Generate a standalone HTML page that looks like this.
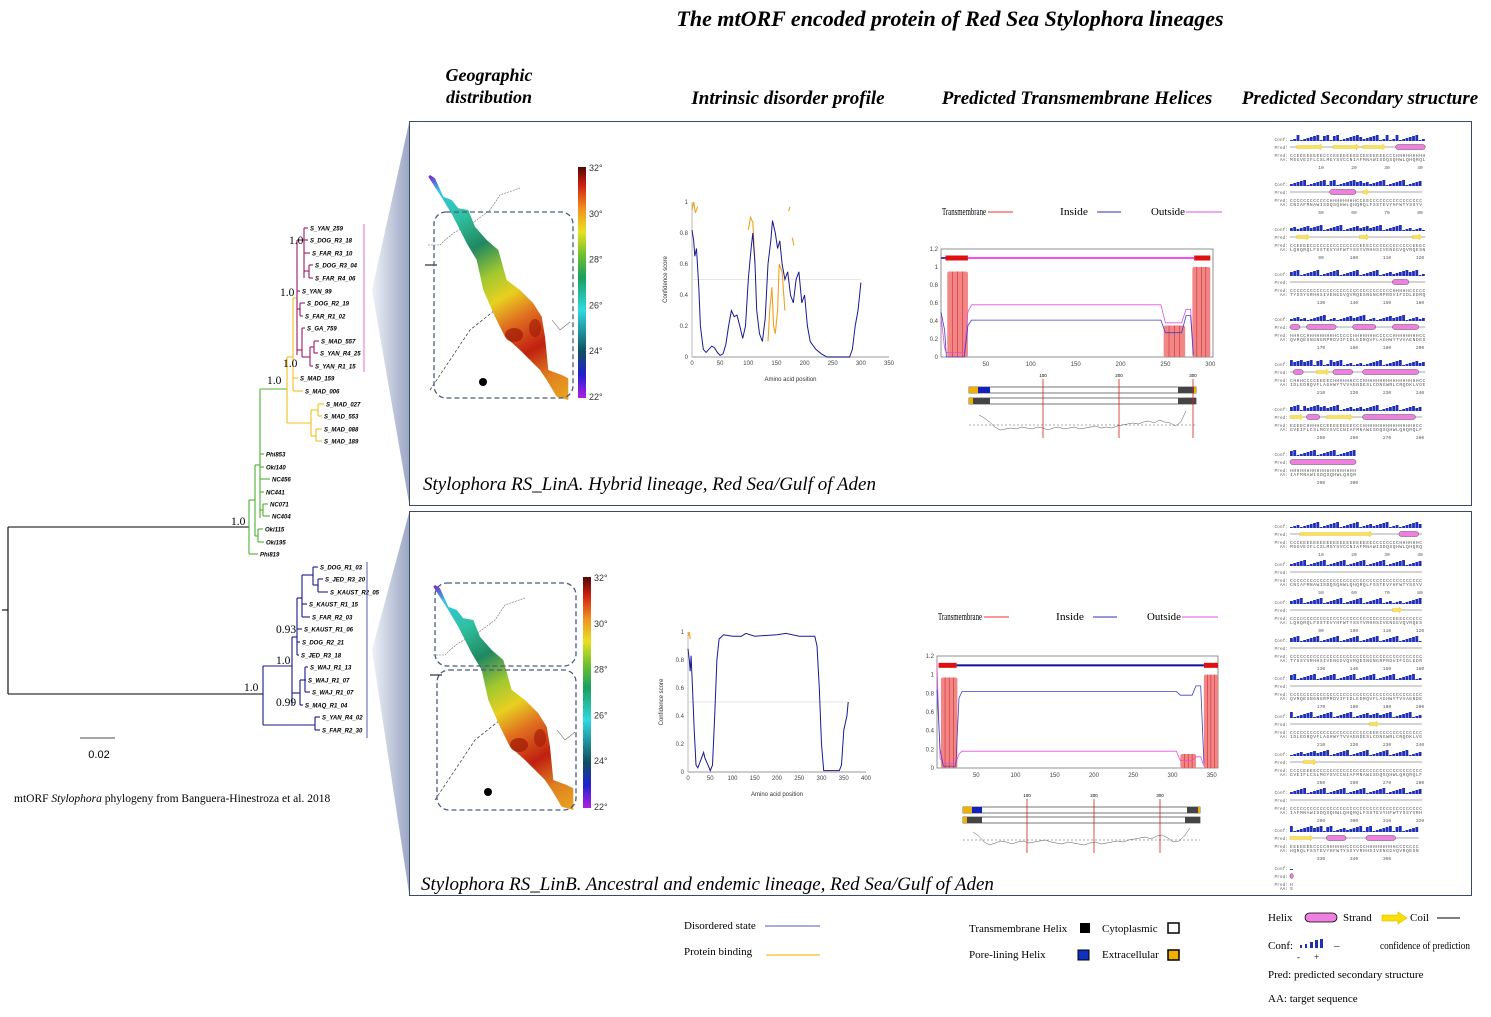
<!DOCTYPE html>
<html><head><meta charset="utf-8"><style>
html,body{margin:0;padding:0;background:#fff;}
svg{display:block;}
.ser{font-family:"Liberation Serif",serif;}
.san{font-family:"Liberation Sans",sans-serif;}
.mono{font-family:"Liberation Mono",monospace;}
</style></head><body>
<svg id="fig" width="1491" height="1017" viewBox="0 0 1491 1017" xmlns="http://www.w3.org/2000/svg">
<defs>
<linearGradient id="wedge" x1="0" y1="0" x2="1" y2="0"><stop offset="0" stop-color="#eef1f7"/><stop offset="1" stop-color="#9aa6c4"/></linearGradient>
<linearGradient id="cbar" x1="0" y1="1" x2="0" y2="0">
<stop offset="0" stop-color="#b020e0"/><stop offset="0.1" stop-color="#2020d0"/><stop offset="0.2" stop-color="#105060"/><stop offset="0.38" stop-color="#30d8e0"/><stop offset="0.52" stop-color="#18a060"/><stop offset="0.62" stop-color="#70c030"/><stop offset="0.72" stop-color="#e8e020"/><stop offset="0.82" stop-color="#f09020"/><stop offset="0.92" stop-color="#d02010"/><stop offset="1" stop-color="#500808"/></linearGradient>
<linearGradient id="sea" gradientUnits="userSpaceOnUse" x1="430" y1="175" x2="560" y2="400">
<stop offset="0" stop-color="#8020d0"/><stop offset="0.07" stop-color="#30c8e0"/><stop offset="0.2" stop-color="#30c0a0"/><stop offset="0.33" stop-color="#208860"/><stop offset="0.45" stop-color="#a0c830"/><stop offset="0.55" stop-color="#e8d020"/><stop offset="0.65" stop-color="#e07020"/><stop offset="0.78" stop-color="#c02010"/><stop offset="0.9" stop-color="#e08020"/><stop offset="1" stop-color="#e8a020"/></linearGradient>
</defs>

<text x="950" y="26" text-anchor="middle" class="ser" font-size="22" font-style="italic" font-weight="bold">The mtORF encoded protein of Red Sea Stylophora lineages</text>
<text x="489" y="81" text-anchor="middle" class="ser" font-size="18" font-style="italic" font-weight="bold">Geographic</text>
<text x="489" y="103" text-anchor="middle" class="ser" font-size="18" font-style="italic" font-weight="bold">distribution</text>
<text x="788" y="104" text-anchor="middle" class="ser" font-size="19" font-style="italic" font-weight="bold">Intrinsic disorder profile</text>
<text x="1077" y="104" text-anchor="middle" class="ser" font-size="19" font-style="italic" font-weight="bold">Predicted Transmembrane Helices</text>
<text x="1360" y="104" text-anchor="middle" class="ser" font-size="19" font-style="italic" font-weight="bold">Predicted Secondary structure</text>

<polygon points="409,123 372,290 409,503" fill="url(#wedge)"/>
<polygon points="409,513 372,650 409,893" fill="url(#wedge)"/>
<rect x="409.5" y="121.5" width="1062" height="384" fill="none" stroke="#3a4a6a" stroke-width="1"/>
<rect x="409.5" y="511.5" width="1062" height="384" fill="none" stroke="#3a4a6a" stroke-width="1"/>
<text x="423" y="490" class="ser" font-size="19" font-style="italic">Stylophora RS_LinA. Hybrid lineage, Red Sea/Gulf of Aden</text>
<text x="421" y="890" class="ser" font-size="19" font-style="italic">Stylophora RS_LinB. Ancestral and endemic lineage, Red Sea/Gulf of Aden</text>

<g id="tree"></g>
<line x1="80" y1="738" x2="115" y2="738" stroke="#888" stroke-width="1.5"/>
<text x="99" y="758" text-anchor="middle" class="san" font-size="11">0.02</text>
<text x="14" y="802" class="ser" font-size="11.5">mtORF <tspan font-style="italic">Stylophora</tspan> phylogeny from Banguera-Hinestroza et al. 2018</text>

<g id="mapA"></g>
<g id="mapB" transform="translate(5,410)"></g>

<g id="disA"></g>
<g id="disB"></g>
<g id="tmA"></g>
<g id="tmB"></g>
<g id="ssA"></g>
<g id="ssB"></g>

<g class="ser" font-size="11">
<text x="684" y="929">Disordered state</text>
<line x1="765" y1="926" x2="820" y2="926" stroke="#7878c8" stroke-width="1.3"/>
<text x="684" y="955">Protein binding</text>
<line x1="766" y1="955" x2="820" y2="955" stroke="#f0c020" stroke-width="1.3"/>
</g>
<g class="ser" font-size="11">
<text x="969" y="932">Transmembrane Helix</text>
<rect x="1080" y="923" width="10" height="10" fill="#000"/>
<text x="1102" y="932">Cytoplasmic</text>
<rect x="1168" y="923" width="11" height="10" fill="#fff" stroke="#000" stroke-width="1.5"/>
<text x="969" y="958">Pore-lining Helix</text>
<rect x="1078" y="950" width="11" height="10" fill="#1030c0" stroke="#000"/>
<text x="1102" y="958">Extracellular</text>
<rect x="1168" y="950" width="11" height="10" fill="#f0b000" stroke="#000" stroke-width="1.5"/>
</g>
<g class="ser" font-size="11">
<text x="1268" y="921">Helix</text>
<rect x="1305" y="913" width="32" height="9" rx="4.5" fill="#f080e0" stroke="#000" stroke-width="0.8"/>
<text x="1343" y="921">Strand</text>
<polygon points="1382,915 1398,915 1398,912 1407,918 1398,924 1398,921 1382,921" fill="#f8e000" stroke="#e0b000" stroke-width="0.6"/>
<text x="1410" y="921">Coil</text>
<line x1="1437" y1="918" x2="1460" y2="918" stroke="#000"/>
<text x="1268" y="949">Conf:</text>
<g fill="#2030b0"><rect x="1300" y="945" width="2" height="3"/><rect x="1305" y="944" width="2" height="4"/><rect x="1310" y="942" width="3" height="6"/><rect x="1315" y="940" width="3" height="8"/><rect x="1320" y="939" width="3" height="9"/></g>
<text x="1297" y="960" font-size="9">-</text>
<text x="1314" y="960" font-size="9">+</text>
<text x="1334" y="949">–</text>
<text x="1380" y="949" textLength="90" lengthAdjust="spacingAndGlyphs">confidence of prediction</text>
<text x="1268" y="978">Pred: predicted secondary structure</text>
<text x="1268" y="1002">AA: target sequence</text>
</g>
</svg>
<script>
var NS="http://www.w3.org/2000/svg";
function mk(parent,tag,attrs,txt){var e=document.createElementNS(NS,tag);for(var k in attrs)e.setAttribute(k,attrs[k]);if(txt!=null)e.textContent=txt;parent.appendChild(e);return e;}
function nm(e,n){


return e;}

/* ---------- TREE ---------- */
var K="#000",G="#4cb030",Y="#f0c020",M="#9a1a6a",B="#18188a";
var treeSegs=[
[2,610,8,610,K],[8,527,8,694,K],[8,527,249,527,K],[8,694,263,694,K],
[249,500,249,554,G],[249,500,255,500,G],[255,465,255,536,G],[255,465,260,465,G],[260,389,260,518,G],
[260,454,264,454,G],[260,467,264,467,G],[260,479,270,479,G],[260,492,264,492,G],[260,510,263,510,G],[263,504,263,516,G],[263,504,268,504,G],[263,516,270,516,G],
[255,536,258,536,G],[258,529,258,542,G],[258,529,263,529,G],[258,542,264,542,G],[249,554,258,554,G],
[260,389,287,389,G],[287,357,287,423,Y],[287,357,293,357,Y],[293,298,293,391,Y],[293,378,298,378,Y],[293,391,303,391,Y],[293,298,297,298,Y],
[287,423,311,423,Y],[311,410,311,436,Y],[311,410,318,410,Y],[318,404,318,416,Y],[318,404,324,404,Y],[318,416,322,416,Y],[311,436,316,436,Y],[316,429,316,441,Y],[316,429,322,429,Y],[316,441,322,441,Y],
[297,240,297,355,M],[297,240,304,240,M],[304,228,304,278,M],[304,228,308,228,M],[304,240,308,240,M],[304,253,310,253,M],[304,271,309,271,M],[309,265,309,278,M],[309,265,313,265,M],[309,278,313,278,M],
[297,291,300,291,M],[297,309,300,309,M],[300,303,300,316,M],[300,303,305,303,M],[300,316,303,316,M],
[297,350,302,350,M],[302,328,302,357,M],[302,328,305,328,M],[302,357,310,357,M],[310,347,310,366,M],[310,347,314,347,M],[314,341,314,353,M],[314,341,319,341,M],[314,353,318,353,M],[310,366,313,366,M],
[263,666,263,725,B],[263,666,292,666,B],[292,637,292,705,B],[292,637,297,637,B],[297,598,297,655,B],[297,598,302,598,B],[302,575,302,617,B],[302,575,313,575,B],[313,567,313,585,B],[313,567,318,567,B],[313,585,318,585,B],[318,579,318,592,B],[318,579,323,579,B],[318,592,328,592,B],
[302,604,307,604,B],[302,617,310,617,B],[297,629,302,629,B],[297,642,300,642,B],[297,655,299,655,B],
[292,693,300,693,B],[300,680,300,705,B],[300,680,305,680,B],[305,667,305,692,B],[305,667,308,667,B],[305,680,306,680,B],[305,692,310,692,B],[300,705,303,705,B],
[263,725,315,725,B],[315,717,315,730,B],[315,717,320,717,B],[315,730,320,730,B]];
var tipNames=["S_YAN_259","S_DOG_R3_18","S_FAR_R3_10","S_DOG_R3_04","S_FAR_R4_06","S_YAN_99","S_DOG_R2_19","S_FAR_R1_02","S_GA_759","S_MAD_557","S_YAN_R4_25","S_YAN_R1_15","S_MAD_159","S_MAD_006","S_MAD_027","S_MAD_553","S_MAD_088","S_MAD_189","Phi853","Oki140","NC456","NC441","NC071","NC404","Oki115","Oki195","Phi819","S_DOG_R1_03","S_JED_R3_20","S_KAUST_R2_05","S_KAUST_R1_15","S_FAR_R2_03","S_KAUST_R1_06","S_DOG_R2_21","S_JED_R3_18","S_WAJ_R1_13","S_WAJ_R1_07","S_WAJ_R1_07","S_MAQ_R1_04","S_YAN_R4_02","S_FAR_R2_30"];
var tipX=[308,308,310,313,313,300,305,303,305,319,318,313,298,303,324,322,322,322,264,264,270,264,268,270,263,264,258,318,323,328,307,310,302,300,299,308,306,310,303,320,320];
var tipY=[228,240,253,265,278,291,303,316,328,341,353,366,378,391,404,416,429,441,454,467,479,492,504,516,529,542,554,567,579,592,604,617,629,642,655,667,680,692,705,717,730];
var supLabels=["1.0","1.0","1.0","1.0","1.0","0.93","1.0","1.0","0.99"];
var supX=[289,280,283,267,231,276,276,244,276];
var supY=[244,296,367,384,525,633,664,691,706];
(function(){var g=document.getElementById('tree');
treeSegs.forEach(function(s,i){var l=mk(g,'line',{x1:s[0],y1:s[1],x2:s[2],y2:s[3],stroke:s[4],'stroke-width':1.1});nm(l,'tree-branch');});
tipNames.forEach(function(n,i){var t=mk(g,'text',{x:tipX[i]+2,y:tipY[i]+2.5,'font-size':6,'font-style':'italic','font-weight':'bold','font-family':'Liberation Sans, sans-serif'},n);nm(t,'tip-label');});
supLabels.forEach(function(s,i){var t=mk(g,'text',{x:supX[i],y:supY[i],'font-size':11.5,'font-family':'Liberation Serif, serif'},s);nm(t,'support-value');});
var b1=mk(g,'line',{x1:364,y1:224,x2:364,y2:372,stroke:'#e070d0','stroke-width':1});nm(b1,'clade-bar-lina');
var b2=mk(g,'line',{x1:367,y1:562,x2:367,y2:738,stroke:'#5060b0','stroke-width':1});nm(b2,'clade-bar-linb');
})();

/* ---------- MAPS ---------- */
var cbLabels=["32°","30°","28°","26°","24°","22°"];
function drawMap(g,dashRects){
var pts=[[60,75],[75,85],[100,140],[125,150],[145,175],[175,180],[195,230],[230,270],[265,300],[290,390],[330,420],[370,460],[395,500],[405,560],[415,660],[455,675],[475,685],[475,750],[440,740],[410,690],[390,660],[330,600],[285,560],[255,500],[220,420],[200,330],[170,280],[130,200],[100,150],[55,80]];
var p=pts.map(function(q){return (q[0]/3+410).toFixed(1)+","+(q[1]/3+150).toFixed(1);}).join(" ");
var land=mk(g,'polyline',{points:"428,245 440,245 445,240 455,232 470,225 490,210 500,195 520,188",fill:'none',stroke:'#666','stroke-width':0.6,'stroke-dasharray':'2,1'});nm(land,'coastline');
var land2=mk(g,'polyline',{points:"430,390 450,360 470,330 485,318 495,310",fill:'none',stroke:'#333','stroke-width':0.7,'stroke-dasharray':'3,2'});nm(land2,'coastline');
var land3=mk(g,'polyline',{points:"552,320 560,330 570,322",fill:'none',stroke:'#666','stroke-width':0.6});nm(land3,'coastline');
var sea=mk(g,'polygon',{points:p,fill:'url(#sea)'});nm(sea,'red-sea-temperature');
var hot=mk(g,'ellipse',{cx:514,cy:335,rx:9,ry:7,fill:'#a01808',opacity:0.7});nm(hot,'hotspot');
var hot2=mk(g,'ellipse',{cx:535,cy:328,rx:6,ry:9,fill:'#a01808',opacity:0.6});nm(hot2,'hotspot');
var isl=mk(g,'circle',{cx:483,cy:382,r:4,fill:'#000'});nm(isl,'island');
var tk=mk(g,'line',{x1:425,y1:265,x2:437,y2:265,stroke:'#000'});nm(tk,'map-tick');
var cb=mk(g,'rect',{x:578,y:167,width:8,height:231,fill:'url(#cbar)'});nm(cb,'colorbar');
cbLabels.forEach(function(l,i){var t=mk(g,'text',{x:589,y:171+i*45.8,'font-size':9,'font-family':'Liberation Sans, sans-serif',fill:'#333'},l);nm(t,'colorbar-label');});
dashRects.forEach(function(r){var d=mk(g,'rect',{x:r[0],y:r[1],width:r[2],height:r[3],rx:12,fill:'none',stroke:'#4a5a80','stroke-width':1.3,'stroke-dasharray':'5,3'});nm(d,'sampling-region');});
}
drawMap(document.getElementById('mapA'),[[434,212,139,186]]);
drawMap(document.getElementById('mapB'),[[430,173,141,83],[432,260,139,140]]);

/* ---------- DISORDER CHARTS ---------- */
var disAPos=[0,3,5,8,12,15,20,25,30,35,40,45,50,55,60,65,70,75,80,85,90,95,100,105,108,112,115,120,125,130,135,140,143,148,152,156,160,165,170,175,180,185,190,195,200,205,210,220,230,240,280,285,290,295,300];
var disAVal=[0.82,0.75,0.65,0.7,0.45,0.2,0.05,0.03,0.05,0.07,0.06,0.03,0.01,0.02,0.08,0.2,0.3,0.26,0.27,0.2,0.12,0.2,0.5,0.7,0.8,0.6,0.3,0.15,0.1,0.25,0.6,0.75,0.88,0.8,0.7,0.75,0.6,0.5,0.55,0.4,0.35,0.5,0.55,0.35,0.4,0.2,0.1,0.05,0.02,0,0,0.05,0.2,0.3,0.48];
var bindA=[[[0,0.95],[3,1.0],[6,0.93],[10,0.97]],[[100,0.82],[104,0.9],[108,0.87],[112,0.6]],[[135,0.1],[138,0.3],[142,0.45],[145,0.2],[148,0.15],[152,0.3],[155,0.6],[160,0.55],[165,0.3]],[[172,0.94],[174,0.97]],[[178,0.77],[181,0.72]]];
var disAXTicks=[0,50,100,150,200,250,300,350];
var disBPos=[0,3,5,7,10,14,18,22,28,35,38,45,50,55,60,65,70,80,100,120,130,150,200,220,250,285,290,295,300,305,340,345,350,357,360];
var disBVal=[0.88,0.8,0.72,0.83,0.6,0.3,0.05,0.03,0.08,0.14,0.1,0.05,0.01,0.05,0.4,0.8,0.95,0.98,0.97,0.97,0.99,0.97,0.98,0.99,0.97,0.97,0.9,0.6,0.2,0.01,0.01,0.05,0.3,0.4,0.5];
var bindB=[[[0,0.97],[3,1.0],[5,0.95]]];
var disBXTicks=[0,50,100,150,200,250,300,350,400];
var disYTicks=[0,0.2,0.4,0.6,0.8,1];
function drawDis(g,o,pos,val,bind,xt,tag){
var sx=function(v){return o.x0+(v-o.xmin)/(o.xmax-o.xmin)*(o.x1-o.x0);};
var sy=function(v){return o.y0-(v)*(o.y0-o.y1);};
var ax=mk(g,'line',{x1:o.x0,y1:o.y0,x2:o.x1,y2:o.y0,stroke:'#bbb','stroke-width':1.5});nm(ax,'x-axis');
var ay=mk(g,'line',{x1:o.x0,y1:o.y0,x2:o.x0,y2:o.y1,stroke:'#bbb','stroke-width':1});nm(ay,'y-axis');
xt.forEach(function(v){var t=mk(g,'text',{x:sx(v),y:o.y0+8,'font-size':6,'text-anchor':'middle','font-family':'Liberation Sans, sans-serif',fill:'#444'},String(v));nm(t,'x-tick-label');});
disYTicks.forEach(function(v){var t=mk(g,'text',{x:o.x0-4,y:sy(v)+2,'font-size':6,'text-anchor':'end','font-family':'Liberation Sans, sans-serif',fill:'#444'},String(v));nm(t,'y-tick-label');});
var th=mk(g,'line',{x1:sx(0),y1:sy(0.5),x2:sx(pos[pos.length-1]),y2:sy(0.5),stroke:'#ccc','stroke-width':0.6});nm(th,'threshold-line');
var xl=mk(g,'text',{x:(o.x0+o.x1)/2,y:o.y0+24,'font-size':6,'text-anchor':'middle','font-family':'Liberation Sans, sans-serif',fill:'#333'},'Amino acid position');nm(xl,'x-axis-title');
var yc=(o.y0+o.y1)/2;var yl=mk(g,'text',{x:o.x0-25,y:yc,'font-size':6,'text-anchor':'middle','font-family':'Liberation Sans, sans-serif',fill:'#333',transform:'rotate(-90 '+(o.x0-25)+' '+yc+')'},'Confidence score');nm(yl,'y-axis-title');
bind.forEach(function(seg){var l=mk(g,'polyline',{points:seg.map(function(q){return sx(q[0]).toFixed(1)+','+sy(q[1]).toFixed(1);}).join(' '),fill:'none',stroke:'#f0a020','stroke-width':1.1});nm(l,'binding-line');});
var d=mk(g,'polyline',{points:pos.map(function(p,i){return sx(p).toFixed(1)+','+sy(val[i]).toFixed(1);}).join(' '),fill:'none',stroke:'#1a1a90','stroke-width':1});nm(d,'disorder-line');
}
drawDis(document.getElementById('disA'),{x0:692,x1:889,xmin:0,xmax:350,y0:357,y1:202},disAPos,disAVal,bindA,disAXTicks,'a');
drawDis(document.getElementById('disB'),{x0:688,x1:866,xmin:0,xmax:400,y0:772,y1:632},disBPos,disBVal,bindB,disBXTicks,'b');

/* ---------- TM CHARTS ---------- */
var tmYTicks=[0,0.2,0.4,0.6,0.8,1,1.2];
var tmAXTicks=[50,100,150,200,250,300];
var tmARegions=[[7,30,0.95],[248,272,0.35],[280,300,1.0]];
var tmATopBars=[[5,30,'#e01010'],[282,300,'#e01010'],[30,282,'#f050f0'],[0,5,'#4040c0']];
var tmAOutPos=[0,4,6,26,30,34,245,250,268,273,278,281];
var tmAOutVal=[0.45,0.1,0.05,0.05,0.5,0.58,0.58,0.38,0.38,0.53,0.53,0.05];
var tmAInPos=[0,4,6,26,30,34,245,250,268,273,278,281];
var tmAInVal=[0.5,0.3,0.0,0.0,0.35,0.41,0.41,0.27,0.27,0.46,0.46,0.02];
var tmBXTicks=[50,100,150,200,250,300,350];
var tmBRegions=[[5,26,0.97],[310,330,0.15],[340,358,1.0]];
var tmBTopBars=[[2,25,'#e01010'],[340,358,'#e01010'],[25,340,'#101090']];
var tmBOutPos=[0,4,8,24,28,32,305,310,325,330,336,340];
var tmBOutVal=[1.1,0.1,0.05,0.05,0.15,0.18,0.18,0.08,0.08,0.12,0.12,0.02];
var tmBInPos=[0,4,8,24,28,32,305,310,325,330,336,340];
var tmBInVal=[0.84,0.2,0.02,0.02,0.75,0.82,0.82,0.78,0.78,0.88,0.88,0.05];
function drawTM(g,o,xt,reg,bars,op,ov,ip,iv,topo){
var sx=function(v){return o.x0+v/o.xmax*(o.x1-o.x0);};
var sy=function(v){return o.y0-v/1.2*(o.y0-o.y1);};
var lg=[['Transmembrane',0,'#e83030',44],['Inside',118,'#3030b0',28],['Outside',209,'#e050e0',34]];
var ls=[47,38,36],le=[72,62,72];
lg.forEach(function(l,i){var t=mk(g,'text',{x:o.x0+1+l[1],y:o.ly,'font-size':10.5,'font-family':'Liberation Serif, serif',textLength:l[3],lengthAdjust:'spacingAndGlyphs'},l[0]);nm(t,'tm-legend-label');
var ln=mk(g,'line',{x1:o.x0+l[1]+ls[i],y1:o.ly-3,x2:o.x0+l[1]+le[i],y2:o.ly-3,stroke:l[2],'stroke-width':1});nm(ln,'tm-legend-line');});
var box=mk(g,'rect',{x:o.x0,y:o.y1,width:o.x1-o.x0,height:o.y0-o.y1,fill:'none',stroke:'#777','stroke-width':0.8});nm(box,'tm-plot-frame');
tmYTicks.forEach(function(v){var t=mk(g,'text',{x:o.x0-3,y:sy(v)+2,'font-size':6,'text-anchor':'end','font-family':'Liberation Sans, sans-serif',fill:'#444'},String(v));nm(t,'y-tick-label');});
xt.forEach(function(v){var t=mk(g,'text',{x:sx(v),y:o.y0+9,'font-size':6,'text-anchor':'middle','font-family':'Liberation Sans, sans-serif',fill:'#444'},String(v));nm(t,'x-tick-label');});
reg.forEach(function(r){var a=mk(g,'rect',{x:sx(r[0]),y:sy(r[2]),width:sx(r[1])-sx(r[0]),height:sy(0)-sy(r[2]),fill:'#f07070',opacity:0.85,rx:2});nm(a,'tm-probability-area');
for(var k=1;k<4;k++){var vl=mk(g,'line',{x1:sx(r[0]+(r[1]-r[0])*k/4),y1:sy(r[2]),x2:sx(r[0]+(r[1]-r[0])*k/4),y2:sy(0),stroke:'#c02020','stroke-width':0.5});nm(vl,'tm-area-stripe');}});
bars.forEach(function(b){var r=mk(g,'rect',{x:sx(b[0]),y:sy(1.1)-(b[2]=='#e01010'?2.5:1),width:sx(b[1])-sx(b[0]),height:b[2]=='#e01010'?5:2,fill:b[2]});nm(r,'topology-bar');});
var lo=mk(g,'polyline',{points:op.map(function(p,i){return sx(p).toFixed(1)+','+sy(ov[i]).toFixed(1);}).join(' '),fill:'none',stroke:'#e050e0','stroke-width':0.8});nm(lo,'outside-line');
var li=mk(g,'polyline',{points:ip.map(function(p,i){return sx(p).toFixed(1)+','+sy(iv[i]).toFixed(1);}).join(' '),fill:'none',stroke:'#4040c0','stroke-width':0.8});nm(li,'inside-line');
var T=topo;
[[T.y1,T.segs1],[T.y2,T.segs2]].forEach(function(row){var r=mk(g,'rect',{x:T.x0,y:row[0],width:T.x1-T.x0,height:6,fill:'#fff',stroke:'#555','stroke-width':0.8});nm(r,'topology-track');
row[1].forEach(function(s){var q=mk(g,'rect',{x:s[0],y:row[0],width:s[1]-s[0],height:6,fill:s[2]});nm(q,'topology-segment');});});
var dl=mk(g,'line',{x1:T.x0,y1:T.hy,x2:T.x1,y2:T.hy,stroke:'#555','stroke-width':0.5,'stroke-dasharray':'2,2'});nm(dl,'hydro-baseline');
var hp=[];for(var i=0;i<=T.hv.length-1;i++){hp.push((T.x0+10+i*(T.x1-T.x0-20)/(T.hv.length-1)).toFixed(1)+','+(T.hy-T.hv[i]).toFixed(1));}
var hl=mk(g,'polyline',{points:hp.join(' '),fill:'none',stroke:'#555','stroke-width':0.5});nm(hl,'hydrophobicity-line');
T.marks.forEach(function(m,i){var v=mk(g,'line',{x1:m,y1:T.y1-8,x2:m,y2:T.hy+13,stroke:'#d02020','stroke-width':0.8});nm(v,'position-marker');
var t=mk(g,'text',{x:m,y:T.y1-10,'font-size':4.5,'text-anchor':'middle','font-family':'Liberation Sans, sans-serif'},String((i+1)*100));nm(t,'position-label');});
}
var hydA=[10,7,3,-2,-5,-4,-3,-4,-2,-3,-4,-2,-3,-5,-3,-2,-4,-3,-2,-4,-3,-2,-1,-3,-2,-3,-1,0,1,2,1,3,4,2,5,3,2,-1,3,14];
var hydB=[8,4,-2,-5,-3,-1,-2,-4,-2,-1,-3,-2,-1,0,-2,-3,-4,-2,-3,-4,-5,-3,-2,-4,-3,-2,-1,-2,0,1,2,3,1,4,5,2,-2,-1,4,12];
drawTM(document.getElementById('tmA'),{x0:941,x1:1213,xmax:303,y0:357,y1:249,ly:215},tmAXTicks,tmARegions,tmATopBars,tmAOutPos,tmAOutVal,tmAInPos,tmAInVal,
 {x0:969,x1:1196,y1:387,y2:398,hy:425,hv:hydA,marks:[1043,1119,1193],
  segs1:[[969,978,'#f0b000'],[978,990,'#1020c0'],[1178,1194,'#444'],[1194,1196,'#f0b000']],
  segs2:[[969,973,'#f0b000'],[973,990,'#444'],[1178,1196,'#444']]});
drawTM(document.getElementById('tmB'),{x0:937,x1:1218,xmax:358,y0:768,y1:656,ly:620},tmBXTicks,tmBRegions,tmBTopBars,tmBOutPos,tmBOutVal,tmBInPos,tmBInVal,
 {x0:963,x1:1200,y1:807,y2:817,hy:840,hv:hydB,marks:[1027,1094,1160],
  segs1:[[963,972,'#f0b000'],[972,982,'#1020c0'],[1187,1198,'#444'],[1198,1200,'#f0b000']],
  segs2:[[963,967,'#f0b000'],[967,982,'#444'],[1185,1200,'#444']]});

/* ---------- SECONDARY STRUCTURE ---------- */
var ssA=["CCEEEEEEEECCCEEEEEEEECEEEEEEECCCHHHHHHHHH","CCCCCCCCCCCCHHHHHHHHCCEECCCCCCCCCCCCCCCC","CCEEEECCCCCCCCCCCCCCCEEECCCCCCCCCCCCCEEEC","CCCCCCCCCCCCCCCCCCCCCCCCCCCCCCCHHHHHCCCCC","HHHCCHHHHHHHHHCCCCCHHHHHHHCCCCCHHHHHHHHCC","CHHHCCCCEEEECHHHHHHCCCHHHHHHHHHHHHHHHHHCC","EEEECHHHHCCEEEEEEEECCCHHHHHHHHHHHHHHHHCC","HHHHHHHHHHHHHHHHHHHH"];
var ssB=["CCCEEEEEEEEEEEEEEEEEEEEEECCCCCCCCHHHHHHC","CCCCCCCCCCCCCCCCCCCCCCCCCCCCCCCCCCCCCCCC","CCCCCCCCCCCCCCCCCCCCCCCCCCCCCCCEEECCCCCC","CCCCCCCCCCCCCCCCCCCCCCCCCCCCCCCCCCCCCCCC","CCCCCCCCCCCCCCCCCCCCCCCCCCCCCCCCCCCCCCCC","CCCCCCCCCCCCCCCCCCCCCCCCEEECCCCCCCCCCCCC","CCCCEEEECCCCCCCCCCCCCCCCCCCCCCCCCCCCCCCC","CCCCCCCCCCCCCCCCCCCCCCCCCCCCCCCCCCCCCCCC","EEEEEEECCCCHHHHHHCCCCCCHHHHHHHHHCCCCCCC","H"];
var aaSeq="MSGVEIFLCSLMGYSVCCNIAFMNAWISDQSQHWLQHQRQLFSSTEVYHFWTYSSYVRHHSIVENGGVQVRQESNGNGRPRDVIFIDLEDRQVFLAGHWYTVVAENDESLCDNGWRLCRQDKLVGEGNHIWRDEKNPRDL";
function drawSS(g,arr,y0,dy,w,startNum){
arr.forEach(function(s,bi){var y=y0+bi*dy;var x0=1290,cw=w/40;
var lb=[['Conf:',0],['Pred:',8],['Pred:',16],['AA:',20]];
lb.forEach(function(l){var t=mk(g,'text',{x:1288,y:y+l[1]+2,'font-size':4.5,'text-anchor':'end','font-family':'Liberation Mono, monospace',fill:'#666'},l[0]);nm(t,'ss-row-label');});
for(var i=0;i<s.length;i++){var h=1+((i*7+bi*13+(s[i]=='C'?0:3))%6);var r=mk(g,'rect',{x:x0+i*cw,y:y+2-h,width:cw*0.85,height:h,fill:'#2030b8'});nm(r,'confidence-bar');}
var cl=mk(g,'line',{x1:x0,y1:y+8,x2:x0+s.length*cw,y2:y+8,stroke:'#555','stroke-width':0.5});nm(cl,'coil-line');
var re=/H+|E+/g,m;while((m=re.exec(s))){var a=x0+m.index*cw,b=x0+(m.index+m[0].length)*cw;
if(m[0][0]=='H'){var hx=mk(g,'rect',{x:a,y:y+5.5,width:b-a,height:5,rx:2.5,fill:'#f080e0',stroke:'#333','stroke-width':0.4});nm(hx,'helix-shape');}
else{var e=mk(g,'polygon',{points:a+','+(y+6.5)+' '+(b-3)+','+(y+6.5)+' '+(b-3)+','+(y+5)+' '+b+','+(y+8)+' '+(b-3)+','+(y+11)+' '+(b-3)+','+(y+9.5)+' '+a+','+(y+9.5),fill:'#f8e060',stroke:'#e0b000','stroke-width':0.3});nm(e,'strand-arrow');}}
var tp=mk(g,'text',{x:x0,y:y+18,'font-size':4.6,'font-family':'Liberation Mono, monospace',fill:'#555',textLength:s.length*cw},s);nm(tp,'pred-sequence');
var aa=aaSeq.substr((bi*17)%100,s.length);var ta=mk(g,'text',{x:x0,y:y+22,'font-size':4.6,'font-family':'Liberation Mono, monospace',fill:'#555',textLength:s.length*cw},aa);nm(ta,'aa-sequence');
for(var k=1;k<=4&&k*10<=s.length;k++){var n=mk(g,'text',{x:x0+k*10*cw-2,y:y+30,'font-size':4.6,'text-anchor':'middle','font-family':'Liberation Mono, monospace',fill:'#555'},String(startNum+bi*40+k*10));nm(n,'ss-position');}
});}
drawSS(document.getElementById('ssA'),ssA,139,45,132,0);
drawSS(document.getElementById('ssB'),ssB,526,38,132,0);
</script>
</body></html>
